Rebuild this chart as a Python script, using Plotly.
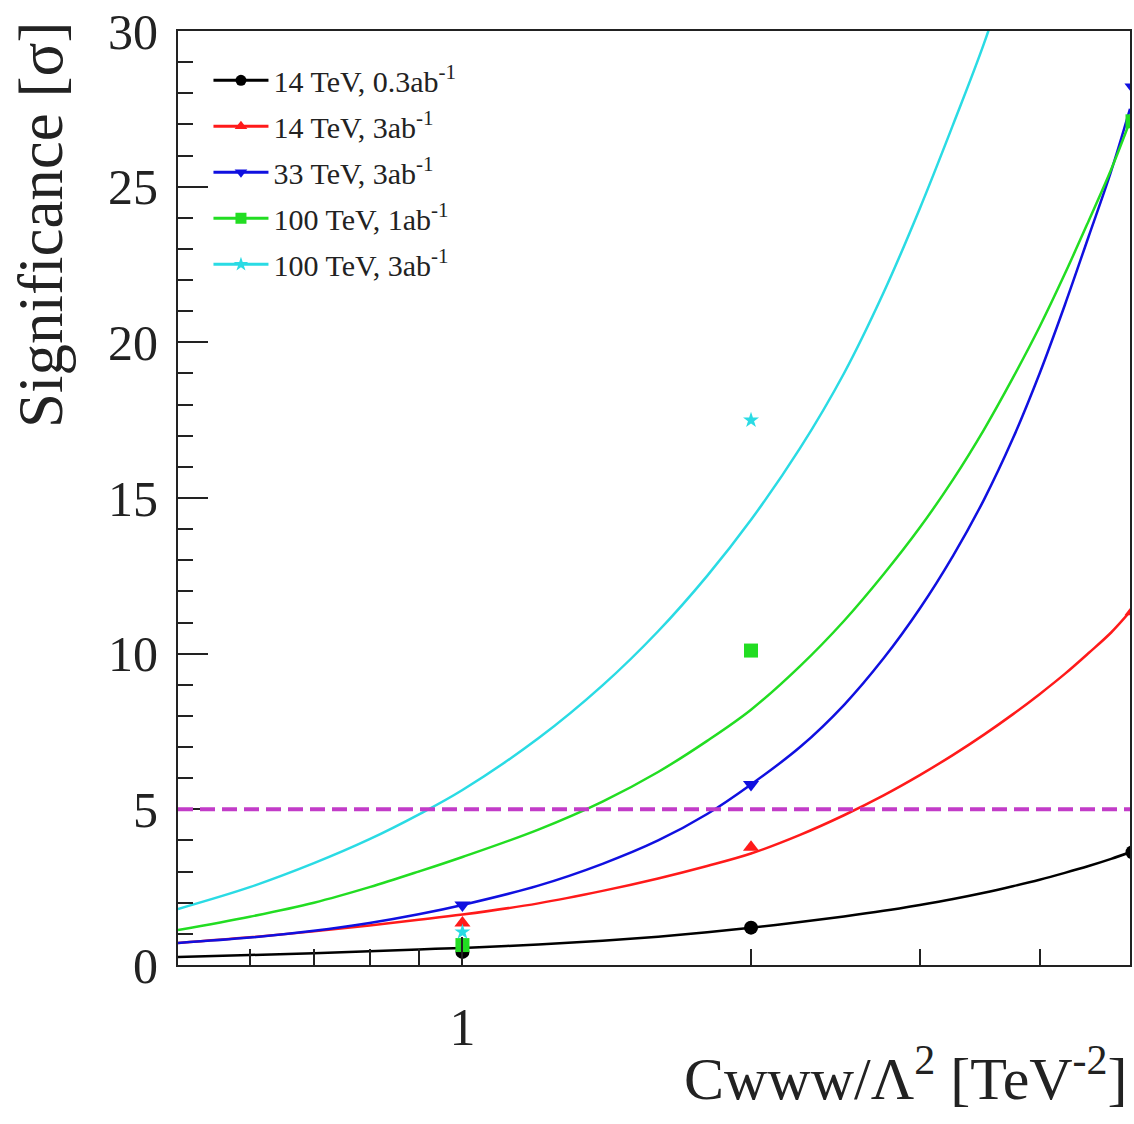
import numpy as np
import plotly.graph_objects as go

# ---------------- data ----------------
# measured points (Cwww/Lambda^2 in TeV^-2)
pt_x = [1, 2, 5]
pts_14_03 = [0.42, 1.20, 3.62]
pts_14_3 = [1.35, 3.78, 11.35]
pts_33_3 = [1.93, 5.80, 28.2]
pts_100_1 = [0.64, 10.1, 27.1]
pts_100_3_x = [1, 2]
pts_100_3 = [1.06, 17.5]

# fitted curves
curve_x = [0.505, 0.6, 0.7, 0.8, 0.9, 1.0, 1.2, 1.4, 1.6, 1.8, 2.0, 2.25, 2.5,
           2.75, 3.0, 3.25, 3.5, 3.75, 4.0, 4.25, 4.5, 4.75, 4.97]
fit_14_03 = [0.26, 0.32, 0.38, 0.44, 0.50, 0.55, 0.66, 0.78, 0.91, 1.05, 1.20,
             1.38, 1.56, 1.74, 1.93, 2.12, 2.32, 2.53, 2.74, 2.96, 3.18, 3.41, 3.62]
fit_14_3 = [0.71, 0.89, 1.08, 1.27, 1.45, 1.62, 1.98, 2.38, 2.78, 3.18, 3.58,
            4.18, 4.81, 5.45, 6.10, 6.75, 7.40, 8.05, 8.70, 9.35, 10.02, 10.68, 11.35]
fit_33_3 = [0.71, 0.88, 1.10, 1.35, 1.63, 1.93, 2.55, 3.25, 4.00, 4.85, 5.80,
            7.00, 8.35, 9.85, 11.45, 13.15, 14.95, 16.90, 19.00, 21.20, 23.40, 25.50, 27.50]
fit_100_1 = [1.12, 1.55, 2.00, 2.50, 3.00, 3.47, 4.35, 5.25, 6.20, 7.20, 8.20,
             9.60, 11.05, 12.55, 14.05, 15.60, 17.20, 18.85, 20.50, 22.20, 23.90, 25.55, 27.10]
curve_x_cyan = [0.505, 0.6, 0.7, 0.8, 0.9, 1.0, 1.2, 1.4, 1.6, 1.8, 2.0, 2.25,
                2.5, 2.75, 3.0, 3.25, 3.5, 3.75]
fit_100_3 = [1.80, 2.50, 3.27, 4.04, 4.83, 5.62, 7.28, 8.98, 10.72, 12.50, 14.30,
             16.60, 19.00, 21.60, 24.30, 27.00, 29.60, 32.40]

discovery = 5.0

labels = ["14 TeV, 0.3ab<sup>-1</sup>", "14 TeV, 3ab<sup>-1</sup>",
          "33 TeV, 3ab<sup>-1</sup>", "100 TeV, 1ab<sup>-1</sup>",
          "100 TeV, 3ab<sup>-1</sup>"]

x_range = [0.505, 4.97]
y_range = [0, 30]
x_minor = [0.6, 0.7, 0.8, 0.9, 2, 3, 4]

# ---------------- styles ----------------
colors = ["#000000", "#ff1a1a", "#1010e0", "#22dd22", "#2adbe4"]
symbols = ["circle", "triangle-up", "triangle-down", "square", "star"]
FONT = "Liberation Serif, Times New Roman, serif"

series = [
    (curve_x, fit_14_03, pt_x, pts_14_03),
    (curve_x, fit_14_3, pt_x, pts_14_3),
    (curve_x, fit_33_3, pt_x, pts_33_3),
    (curve_x, fit_100_1, pt_x, pts_100_1),
    (curve_x_cyan, fit_100_3, pts_100_3_x, pts_100_3),
]

fig = go.Figure()
for i, (cx, cy, px, py) in enumerate(series):
    fig.add_trace(go.Scatter(x=cx, y=cy, mode="lines",
                             line=dict(color=colors[i], width=2.5, shape="spline", smoothing=1.0),
                             showlegend=False, hoverinfo="skip"))
for i, (cx, cy, px, py) in enumerate(series):
    fig.add_trace(go.Scatter(x=px, y=py, mode="markers",
                             marker=dict(color=colors[i], symbol=symbols[i], size=14 if i != 4 else 12,
                                         line=dict(width=0)),
                             showlegend=False))
# legend entries
for i in range(5):
    fig.add_trace(go.Scatter(x=[None], y=[None], mode="lines+markers", name=labels[i],
                             legendgroup=str(i),
                             line=dict(color=colors[i], width=3),
                             marker=dict(color=colors[i], symbol=symbols[i], size=11)))

fig.add_shape(type="line", xref="paper", x0=0, x1=1, yref="y", y0=discovery, y1=discovery,
              line=dict(color="#c23cc8", width=4, dash="15px,7px"), layer="above")

fig.update_layout(
    width=1134, height=1124,
    margin=dict(l=178, r=2, t=31, b=159),
    paper_bgcolor="white", plot_bgcolor="white",
    font=dict(family=FONT, color="#222222"),
    showlegend=True,
    legend=dict(x=0.032, y=0.975, xanchor="left", yanchor="top",
                bgcolor="rgba(0,0,0,0)", font=dict(size=30, family=FONT, color="#222222"),
                tracegroupgap=4, itemwidth=55),
    xaxis=dict(type="log", range=[np.log10(x_range[0]), np.log10(x_range[1])],
               tickmode="array", tickvals=[1], ticktext=["1"],
               ticks="inside", ticklen=28, tickwidth=2, tickcolor="#222",
               minor=dict(tickmode="array", tickvals=x_minor, ticks="inside", ticklen=16,
                          tickwidth=2, tickcolor="#222"),
               showgrid=False, zeroline=False, showline=True, linecolor="#222", linewidth=2,
               mirror=True, tickfont=dict(size=52, family=FONT, color="#222"),
               ticklabelstandoff=16),
    yaxis=dict(range=y_range, tickmode="linear", tick0=0, dtick=5,
               ticks="inside", ticklen=30, tickwidth=2, tickcolor="#222",
               minor=dict(dtick=1, ticks="inside", ticklen=15, tickwidth=2, tickcolor="#222"),
               showgrid=False, zeroline=False, showline=True, linecolor="#222", linewidth=2,
               mirror=True, tickfont=dict(size=50, family=FONT, color="#222"),
               ticklabelstandoff=8),
    annotations=[
        dict(text="Significance [σ]", xref="paper", yref="paper", x=-0.182, y=1.013,
             xanchor="left", yanchor="top", textangle=-90, showarrow=False,
             font=dict(size=63, family=FONT, color="#222")),
        dict(text="Cwww/Λ<sup>2</sup> [TeV<sup>-2</sup>]", xref="paper", yref="paper",
             x=1.0, y=-0.075, xanchor="right", yanchor="top", showarrow=False,
             font=dict(size=60, family=FONT, color="#222")),
    ],
)

fig.write_html("out.html")
